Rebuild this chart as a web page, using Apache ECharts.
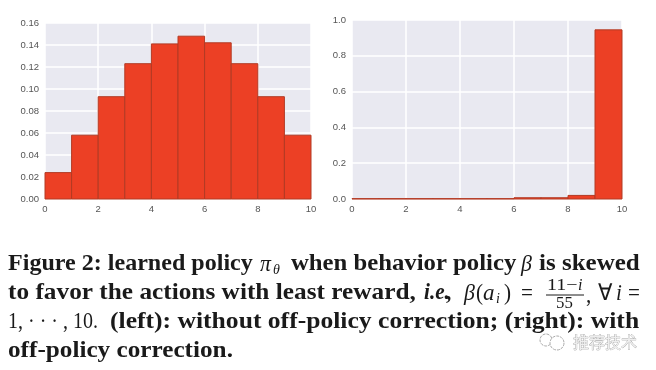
<!DOCTYPE html>
<html>
<head>
<meta charset="utf-8">
<script src="https://cdn.jsdelivr.net/npm/echarts@6/dist/echarts.min.js"></script>
<style>html,body{margin:0;padding:0;background:#fff}#main{width:656px;height:370px}</style>
</head>
<body>
<div id="main"></div>
<script>
var binEdges = [0, 1, 2, 3, 4, 5, 6, 7, 8, 9, 10]
var leftValues = [0.024, 0.058, 0.093, 0.123, 0.141, 0.148, 0.142, 0.123, 0.093, 0.058]
var rightValues = [0.002, 0.002, 0.002, 0.002, 0.002, 0.002, 0.007, 0.007, 0.02, 0.945]

var chart = echarts.init(document.getElementById('main'))

function histData(values) {
  return values.map(function (v, i) { return [binEdges[i], binEdges[i + 1], v] })
}

function renderBin(params, api) {
  var p0 = api.coord([api.value(0), api.value(2)])
  var p1 = api.coord([api.value(1), 0])
  return {
    type: 'rect',
    shape: { x: p0[0], y: p0[1], width: p1[0] - p0[0], height: p1[1] - p0[1] },
    style: { fill: '#EC4025', stroke: '#B23A24', lineWidth: 1 }
  }
}

function xAxis(index) {
  return {
    type: 'value', gridIndex: index, min: 0, max: 10, interval: 2,
    axisLine: { show: false }, axisTick: { show: false },
    axisLabel: { color: '#555', fontSize: 9.5, margin: 5, fontFamily: 'Liberation Sans', showMinLabel: true, showMaxLabel: true },
    splitLine: { show: true, lineStyle: { color: '#fff', width: 1.5 } }
  }
}

function yAxis(index, max, interval, digits) {
  return {
    type: 'value', gridIndex: index, min: 0, max: max, interval: interval,
    axisLine: { show: false }, axisTick: { show: false },
    axisLabel: {
      color: '#555', fontSize: 9.5, margin: 6, fontFamily: 'Liberation Sans',
      formatter: function (v) { return v.toFixed(digits) }
    },
    splitLine: { show: true, lineStyle: { color: '#fff', width: 1.5 } }
  }
}

// caption pieces, stretched sideways since Liberation Serif is narrower than the original face
var serif = 'Liberation Serif'
function cap(text, x, y, stretch, weight, style, size) {
  return {
    type: 'text', x: x, y: y, scaleX: stretch,
    style: {
      text: text, fill: '#1a1a1a', font: (style || 'normal') + ' ' + (weight || 'bold') + ' ' + (size || 23) + 'px "' + serif + '"',
      textVerticalAlign: 'middle'
    }
  }
}

var caption = [
  cap('Figure 2: learned policy', 8, 264, 1.046),
  cap('π', 260, 265, 0.95, 'normal', 'italic'),
  cap('θ', 273, 270, 1, 'normal', 'italic', 14),
  cap('when behavior policy', 291, 264, 1.075),
  cap('β', 521, 265, 0.95, 'normal', 'italic'),
  cap('is skewed', 539, 264, 1.087),
  cap('to favor the actions with least reward,', 8, 293, 1.1),
  cap('i.e.', 424, 293, 0.92, 'bold', 'italic'),
  cap(',', 446, 293, 0.92),
  cap('β', 464, 294, 0.95, 'normal', 'italic'),
  cap('(', 476, 294, 0.92, 'normal'),
  cap('a', 483, 294, 1, 'normal', 'italic'),
  cap('i', 496, 299, 1, 'normal', 'italic', 14),
  cap(')', 504, 294, 0.92, 'normal'),
  cap('=', 521, 294, 0.92, 'normal'),
  cap('11−', 547, 286, 1.25, 'normal', 'normal', 16),
  cap('i', 578, 286, 1, 'normal', 'italic', 16),
  cap('55', 556, 304, 1.05, 'normal', 'normal', 16),
  cap(',', 586, 296, 0.92, 'normal'),
  cap('∀', 598, 294, 0.92, 'normal'),
  cap('i', 616, 294, 0.92, 'normal', 'italic'),
  cap('=', 628, 294, 0.92, 'normal'),
  cap('1, · · · , 10.', 8, 322, 0.87, 'normal'),
  cap('(left): without off-policy correction; (right): with', 110, 322, 1.113),
  cap('off-policy correction.', 8, 351, 1.096),
  {
    type: 'line', shape: { x1: 546, y1: 295, x2: 584, y2: 295 },
    style: { stroke: '#1a1a1a', lineWidth: 1 }
  }
]

// watermark
var watermark = [
  { type: 'circle', shape: { cx: 546, cy: 340, r: 6 }, style: { fill: 'none', stroke: '#aaa', lineWidth: 1, lineDash: [3, 1] } },
  { type: 'circle', shape: { cx: 557, cy: 343, r: 7 }, style: { fill: '#fff', stroke: '#aaa', lineWidth: 1, lineDash: [3, 1] } },
  {
    type: 'text', x: 573, y: 342,
    style: {
      text: '推荐技术', fill: '#eee', stroke: '#888', lineWidth: 0.5,
      font: '16px "Noto Sans CJK SC"', textVerticalAlign: 'middle'
    }
  }
]

chart.setOption({
  backgroundColor: '#fff',
  animation: false,
  grid: [
    { left: 45, top: 23, width: 266, height: 176, backgroundColor: '#E9E9F1', show: true, borderWidth: 0 },
    { left: 352, top: 20, width: 270, height: 179, backgroundColor: '#E9E9F1', show: true, borderWidth: 0 }
  ],
  xAxis: [xAxis(0), xAxis(1)],
  yAxis: [yAxis(0, 0.16, 0.02, 2), yAxis(1, 1, 0.2, 1)],
  series: [
    { type: 'custom', xAxisIndex: 0, yAxisIndex: 0, renderItem: renderBin, data: histData(leftValues), encode: { x: [0, 1], y: 2 } },
    { type: 'custom', xAxisIndex: 1, yAxisIndex: 1, renderItem: renderBin, data: histData(rightValues), encode: { x: [0, 1], y: 2 } }
  ],
  graphic: { elements: caption.concat(watermark) }
})
</script>
</body>
</html>
